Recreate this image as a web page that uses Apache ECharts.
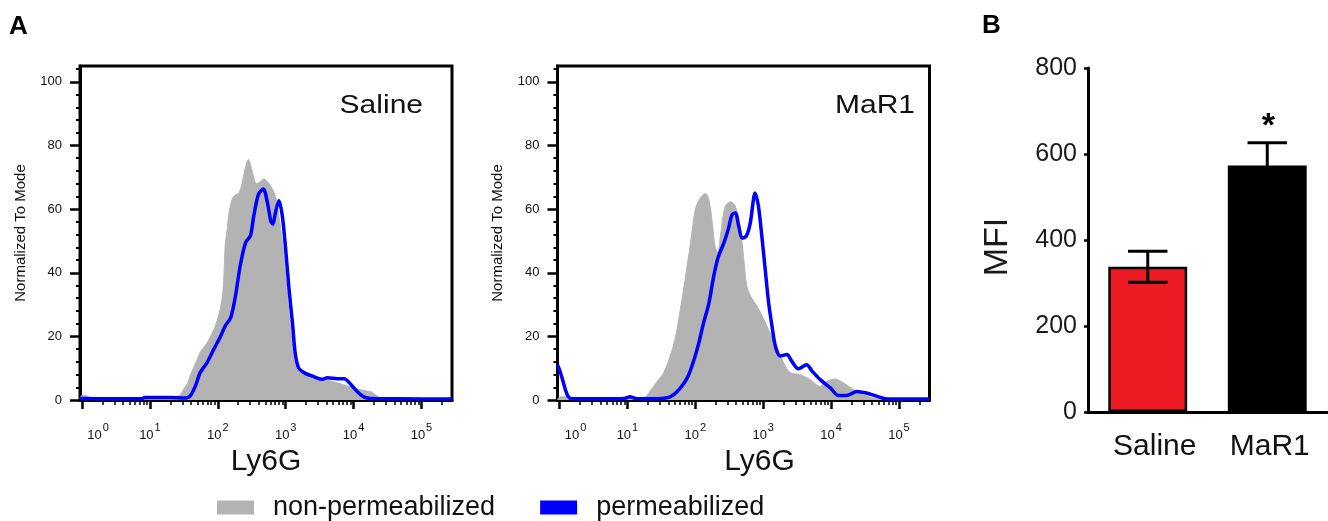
<!DOCTYPE html>
<html><head><meta charset="utf-8">
<script src="https://cdn.jsdelivr.net/npm/echarts@6/dist/echarts.min.js"></script>
<style>html,body{margin:0;padding:0;background:#fff}#c{width:1328px;height:521px}</style>
</head><body><div id="c"></div><script>
// ---- data ----
const decades = [0, 1, 2, 3, 4, 5];
const minorMultipliers = [2, 3, 4, 5, 6, 7, 8, 9];
const yTicks = [0, 20, 40, 60, 80, 100];
const yMinorTicks = [4, 8, 12, 16, 24, 28, 32, 36, 44, 48, 52, 56, 64, 68, 72, 76, 84, 88, 92, 96, 104];

const salineGrayX = [-0.03, 0.0, 0.08, 0.15, 0.5, 1.0, 1.2, 1.3, 1.38, 1.45, 1.5, 1.55, 1.6, 1.64, 1.7, 1.74, 1.79, 1.84, 1.94, 1.99, 2.04, 2.07, 2.09, 2.11, 2.14, 2.16, 2.21, 2.26, 2.31, 2.36, 2.41, 2.45, 2.5, 2.57, 2.62, 2.68, 2.78, 2.85, 2.9, 2.95, 3.0, 3.05, 3.1, 3.14, 3.22, 3.37, 3.56, 3.76, 3.91, 4.06, 4.2, 4.26, 4.35, 4.42, 4.6, 5.45];
const salineGrayY = [0.5, 1.5, 1.2, 0.3, 0.2, 0.3, 0.5, 0.6, 1.0, 1.7, 3.5, 5, 8, 10, 13, 14.9, 16.5, 17.9, 22, 25, 29, 33, 39, 49, 54, 58, 63, 64.5, 65, 68.3, 73.5, 75.6, 72.5, 68, 68.5, 69.5, 67.2, 64, 57.8, 50, 39, 27, 17, 11, 8.6, 7.5, 6.5, 5.4, 4.4, 3.4, 2.8, 2.6, 1.2, 0.4, 0.2, 0.2];
const salineBlueX = [-0.03, 0.5, 0.88, 0.92, 1.3, 1.5, 1.59, 1.67, 1.74, 1.84, 1.94, 2.04, 2.11, 2.19, 2.26, 2.33, 2.41, 2.48, 2.53, 2.6, 2.67, 2.73, 2.78, 2.81, 2.85, 2.9, 2.95, 3.0, 3.05, 3.1, 3.14, 3.19, 3.27, 3.42, 3.54, 3.61, 3.76, 3.86, 3.96, 4.06, 4.15, 4.25, 4.66, 5.45];
const salineBlueY = [0.5, 0.4, 0.4, 0.8, 0.8, 0.6, 1.2, 4.4, 8.6, 11.7, 15.9, 20, 23.3, 25.9, 32.7, 42.2, 49.5, 51.6, 57.9, 64.7, 66.3, 62.1, 56.3, 55.3, 59, 62.6, 57.9, 47.3, 34.7, 24.2, 14.8, 10.1, 8.6, 7.3, 6.5, 7, 6.7, 6.7, 4.9, 2.5, 1, 0.5, 0.4, 0.3];

const mar1GrayX = [-0.03, 0.02, 0.1, 0.3, 0.5, 0.9, 1.19, 1.27, 1.34, 1.44, 1.53, 1.63, 1.71, 1.78, 1.85, 1.93, 2.0, 2.07, 2.15, 2.2, 2.25, 2.29, 2.33, 2.37, 2.44, 2.52, 2.59, 2.66, 2.71, 2.76, 2.83, 2.91, 3.0, 3.1, 3.2, 3.3, 3.4, 3.54, 3.69, 3.84, 3.94, 4.06, 4.18, 4.33, 4.48, 4.62, 4.8, 5.45];
const mar1GrayY = [0.3, 1.0, 1.0, 0.6, 0.4, 0.5, 0.5, 1, 3, 5.9, 8.4, 13.8, 20, 28.5, 37.9, 49.4, 59.9, 63.4, 64.9, 63, 55.7, 48.4, 46.3, 51.5, 60.9, 62.3, 60.9, 54.6, 45.2, 35.7, 32.1, 29.5, 25.8, 21.1, 16.9, 11.7, 8.6, 8, 6.4, 4.3, 5.9, 6.6, 5.4, 3.3, 1.7, 0.6, 0.3, 0.3];
const mar1BlueX = [-0.03, 0.0, 0.05, 0.09, 0.13, 0.18, 0.6, 0.95, 1.04, 1.12, 1.3, 1.5, 1.63, 1.73, 1.83, 1.9, 1.98, 2.05, 2.12, 2.2, 2.27, 2.34, 2.42, 2.49, 2.54, 2.59, 2.64, 2.69, 2.75, 2.81, 2.86, 2.88, 2.93, 2.98, 3.03, 3.08, 3.13, 3.18, 3.25, 3.35, 3.42, 3.52, 3.64, 3.72, 3.84, 3.99, 4.11, 4.23, 4.38, 4.52, 4.67, 4.82, 5.45];
const mar1BlueY = [11, 9.5, 6, 3, 1, 0.4, 0.4, 0.5, 1.0, 0.5, 0.4, 0.5, 1, 2.6, 5.2, 7.8, 12.6, 17.8, 24.1, 30.4, 38.8, 45.1, 49.3, 54, 58.2, 58.8, 54.6, 50.9, 51.5, 55.7, 63.6, 65.1, 60.9, 51.5, 41, 30.6, 23.2, 16.9, 13.8, 14.3, 12.2, 9.8, 11.1, 9.1, 6.4, 3.8, 1.4, 1.4, 2.7, 2.2, 1.2, 0.3, 0.3];

const barCategories = ['Saline', 'MaR1'];
const barMeans = [338, 573];
const barSems = [36, 53];
const barMarks = ['', '*'];
const barTicks = [0, 200, 400, 600, 800];

// ---- helpers ----
const FONT = '"Liberation Sans", Arial, Helvetica, sans-serif';
const zip = (xs, ys) => xs.map((x, i) => [x, ys[i]]);
const minorX = [];
decades.forEach(d => minorMultipliers.forEach(k => { const v = d + Math.log10(k); if (v <= 5.45) minorX.push(v); }));

function histAxes(g, namePad) {
  const xMain = {
    type: 'value', gridIndex: g, min: -0.03, max: 5.45, position: 'bottom',
    axisLine: { show: true, onZero: false, lineStyle: { color: '#000', width: 3 } },
    axisTick: { show: true, customValues: decades, length: 9, lineStyle: { color: '#000', width: 2.5 } },
    axisLabel: {
      customValues: decades, margin: 22, color: '#111',
      formatter: v => { const e = Math.round(v); return (e === 0 ? '{b0|10}' : '{b|10}') + '{s|' + e + '}'; },
      rich: {
        b: { fontSize: 13, fontFamily: FONT, color: '#111' },
        b0: { fontSize: 13, fontFamily: FONT, color: '#111', padding: [0, 0, 0, 32] },
        s: { fontSize: 11, fontFamily: FONT, color: '#111', padding: [0, 0, 16, 1] }
      }
    },
    splitLine: { show: false },
    name: 'Ly6G', nameLocation: 'middle', nameGap: 39,
    nameTextStyle: { fontSize: 30, color: '#111', fontFamily: FONT, padding: namePad }
  };
  const xMinor = {
    type: 'value', gridIndex: g, min: -0.03, max: 5.45, position: 'bottom',
    axisLine: { show: false, onZero: false },
    axisTick: { show: true, customValues: minorX, length: 5, lineStyle: { color: '#000', width: 1.5 } },
    axisLabel: { show: false }, splitLine: { show: false }
  };
  const yMain = {
    type: 'value', gridIndex: g, min: 0, max: 105, position: 'left',
    axisLine: { show: true, onZero: false, lineStyle: { color: '#000', width: 3 } },
    axisTick: { show: true, customValues: yTicks, length: 10, lineStyle: { color: '#000', width: 2.5 } },
    axisLabel: { customValues: yTicks, margin: 18, fontSize: 13, color: '#111', fontFamily: FONT },
    splitLine: { show: false },
    name: 'Normalized To Mode', nameLocation: 'middle', nameGap: 52, nameRotate: 90,
    nameTextStyle: { fontSize: 15, color: '#111', fontFamily: FONT }
  };
  const yMinor = {
    type: 'value', gridIndex: g, min: 0, max: 105, position: 'left',
    axisLine: { show: false, onZero: false },
    axisTick: { show: true, customValues: yMinorTicks, length: 4, lineStyle: { color: '#000', width: 2 } },
    axisLabel: { show: false }, splitLine: { show: false }
  };
  return { x: [xMain, xMinor], y: [yMain, yMinor] };
}

const a1 = histAxes(0, [0, 0, 0, 0]);
const a2 = histAxes(1, [0, 0, 0, 32]);

const GRAY = '#b3b3b3', BLUE = '#0000ff';
function grayS(name, xi, yi, data) {
  return { type: 'line', name, xAxisIndex: xi, yAxisIndex: yi, data, smooth: 0.3, symbol: 'none', z: 2,
    itemStyle: { color: GRAY }, lineStyle: { color: GRAY, width: 1 }, areaStyle: { color: GRAY, opacity: 1 } };
}
function blueS(name, xi, yi, data) {
  return { type: 'line', name, xAxisIndex: xi, yAxisIndex: yi, data, smooth: 0.3, symbol: 'none', z: 3,
    itemStyle: { color: BLUE }, lineStyle: { color: BLUE, width: 3.5 } };
}

const chart = echarts.init(document.getElementById('c'), null, { renderer: 'canvas' });
chart.setOption({
  animation: false,
  backgroundColor: '#fff',
  textStyle: { fontFamily: FONT },
  grid: [
    { left: 80, top: 66, width: 372, height: 334, show: true, borderColor: '#000', borderWidth: 3, backgroundColor: 'transparent' },
    { left: 557.5, top: 66, width: 372, height: 334, show: true, borderColor: '#000', borderWidth: 3, backgroundColor: 'transparent' },
    { left: 1088, top: 68, width: 239, height: 344 }
  ],
  xAxis: [a1.x[0], a1.x[1], a2.x[0], a2.x[1], {
    type: 'category', gridIndex: 2, data: barCategories,
    axisLine: { show: true, lineStyle: { color: '#000', width: 3 } },
    axisTick: { show: false },
    axisLabel: { interval: 0, hideOverlap: false, fontSize: 30, color: '#111', margin: 20, fontFamily: FONT,
      formatter: (v, i) => i === 0 ? '{a|' + v + '}' : '{b|' + v + '}',
      rich: { a: { fontSize: 30, color: '#111', fontFamily: FONT, padding: [0, 0, 0, 14] },
              b: { fontSize: 30, color: '#111', fontFamily: FONT, padding: [0, 0, 0, 5] } } }
  }],
  yAxis: [a1.y[0], a1.y[1], a2.y[0], a2.y[1], {
    type: 'value', gridIndex: 2, min: 0, max: 800,
    axisLine: { show: true, lineStyle: { color: '#000', width: 3 } },
    axisTick: { show: true, customValues: barTicks, length: 4, lineStyle: { color: '#000', width: 2.5 } },
    axisLabel: { customValues: barTicks, fontSize: 25, color: '#1a1a1a', margin: 11, fontFamily: FONT },
    splitLine: { show: false },
    name: 'MFI', nameLocation: 'middle', nameGap: 73, nameRotate: 90,
    nameTextStyle: { fontSize: 34, color: '#1a1a1a', fontFamily: FONT, padding: [0, 14, 0, 0] }
  }],
  legend: {
    left: 217, top: 494, padding: 0, itemWidth: 37, itemHeight: 14, itemGap: 45, selectedMode: false,
    textStyle: { fontSize: 27, color: '#111', fontFamily: FONT, padding: [0, 0, 0, 14] },
    data: [
      { name: 'non-permeabilized', icon: 'rect', itemStyle: { color: GRAY } },
      { name: 'permeabilized', icon: 'rect', itemStyle: { color: BLUE } }
    ]
  },
  graphic: [
    { type: 'text', x: 9, y: 14, style: { text: 'A', fontSize: 26, fontWeight: 'bold', fontFamily: FONT, fill: '#000' } },
    { type: 'text', x: 982, y: 13, style: { text: 'B', fontSize: 26, fontWeight: 'bold', fontFamily: FONT, fill: '#000' } },
    { type: 'text', x: 423, y: 106, scaleX: 1.2, style: { text: 'Saline', fontSize: 25, fontFamily: FONT, fill: '#111', align: 'right', verticalAlign: 'middle' } },
    { type: 'text', x: 915, y: 106, scaleX: 1.2, style: { text: 'MaR1', fontSize: 25, fontFamily: FONT, fill: '#111', align: 'right', verticalAlign: 'middle' } }
  ],
  series: [
    grayS('non-permeabilized', 0, 0, zip(salineGrayX, salineGrayY)),
    blueS('permeabilized', 0, 0, zip(salineBlueX, salineBlueY)),
    grayS('non-permeabilized', 2, 2, zip(mar1GrayX, mar1GrayY)),
    blueS('permeabilized', 2, 2, zip(mar1BlueX, mar1BlueY)),
    {
      type: 'bar', name: 'MFI', xAxisIndex: 4, yAxisIndex: 4, barWidth: '66%', z: 2,
      data: barMeans.map((v, i) => ({ value: v, itemStyle: { color: i === 0 ? '#ed1c24' : '#000000' } })),
      itemStyle: { borderColor: '#000', borderWidth: 2.5 }
    },
    {
      type: 'custom', name: 'SEM', xAxisIndex: 4, yAxisIndex: 4, z: 5,
      data: barCategories.map((c, i) => [i, barMeans[i], barSems[i]]),
      renderItem: (params, api) => {
        const i = api.value(0), m = api.value(1), s = api.value(2);
        const c = api.coord([i, m]), hi = api.coord([i, m + s]), lo = api.coord([i, m - s]);
        const half = api.size([1, 0])[0] * 0.165;
        const st = { stroke: '#000', lineWidth: 3 };
        const ch = [
          { type: 'line', shape: { x1: c[0], y1: hi[1], x2: c[0], y2: lo[1] }, style: st },
          { type: 'line', shape: { x1: c[0] - half, y1: hi[1], x2: c[0] + half, y2: hi[1] }, style: st },
          { type: 'line', shape: { x1: c[0] - half, y1: lo[1], x2: c[0] + half, y2: lo[1] }, style: st }
        ];
        const mark = barMarks[params.dataIndex];
        if (mark) ch.push({ type: 'text', x: c[0] + 1, y: hi[1] + 1, style: { text: mark, fontSize: 34, fontWeight: 'bold', fontFamily: FONT, fill: '#000', align: 'center', verticalAlign: 'bottom' } });
        return { type: 'group', children: ch };
      }
    }
  ]
});
</script></body></html>
